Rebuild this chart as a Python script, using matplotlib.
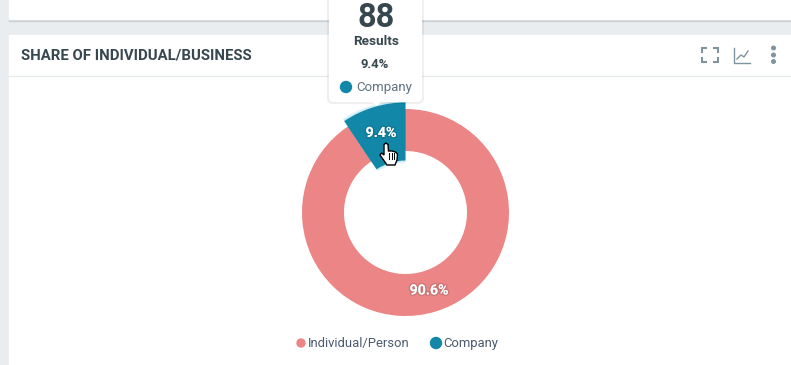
import matplotlib
matplotlib.use("Agg")
import matplotlib.pyplot as plt
import matplotlib.patheffects as pe
from matplotlib.patches import Rectangle, FancyBboxPatch, Polygon, Circle

categories = ["Individual/Person", "Company"]
shares = [90.6, 9.4]
results_company = 88
colors = ["#ec8585", "#1287a8"]
dark = "#37474f"
W, H = 791, 365

def Y(y):
    return H - y

plt.rcParams["font.family"] = ["Roboto", "DejaVu Sans"]
fig = plt.figure(figsize=(W / 100, H / 100), dpi=100, facecolor="#e9edf0")
ax = fig.add_axes([0, 0, 1, 1])

# cards
ax.add_patch(Rectangle((9, Y(20.5)), W, 3, color="#cdd3d7", zorder=1))
ax.add_patch(Rectangle((9, Y(19)), W, 19, color="white", zorder=2))
ax.add_patch(Rectangle((9, 0), W, Y(35), color="white", zorder=2))
ax.plot([9, W], [Y(76), Y(76)], color="#e8ebee", lw=1, zorder=3)
ax.text(21, Y(56), "SHARE OF INDIVIDUAL/BUSINESS", fontsize=10.75, fontweight="bold",
        color=dark, va="center", zorder=4)

# donut
cx, cy = 405.5, Y(212.5)
ax.pie(shares, colors=colors, startangle=90, counterclock=False, center=(cx, cy), radius=103.5,
       wedgeprops=dict(width=42, zorder=5, lw=0), frame=True)

# hovered slice with glow
for grow, alpha in [(6, 0.07), (4, 0.1), (2, 0.14)]:
    ax.pie(shares, colors=["none", "#35b6dc"], startangle=90, counterclock=False, center=(cx, cy),
           radius=110 + grow / 2, wedgeprops=dict(width=58 + grow, alpha=alpha, zorder=6, lw=0), frame=True)
ax.pie(shares, colors=["none", colors[1]], startangle=90, counterclock=False, center=(cx, cy), radius=110,
       wedgeprops=dict(width=58, zorder=7, lw=0), frame=True)

halo = [pe.withStroke(linewidth=2, foreground="#00000022")]
ax.text(381, Y(133), "9.4%", color="white", fontsize=10.2, fontweight="bold", ha="center", va="center",
        path_effects=halo, zorder=8)
ax.text(429, Y(290.5), "90.6%", color="white", fontsize=10.2, fontweight="bold", ha="center", va="center",
        path_effects=halo, zorder=8)

# tooltip
ax.add_patch(FancyBboxPatch((329, Y(102)), 93, 120, boxstyle="round,pad=0,rounding_size=4",
                            fc="#00000010", ec="#00000010", lw=3, zorder=9))
ax.add_patch(FancyBboxPatch((329, Y(102)), 93, 120, boxstyle="round,pad=0,rounding_size=4",
                            fc="white", ec="none", zorder=10))
ax.add_patch(Polygon([(372, Y(102)), (381, Y(102)), (376.5, Y(106))], fc="white", ec="none", zorder=10))
ax.text(376, Y(27), str(results_company), fontsize=23.5, fontweight="bold", color=dark,
        ha="center", va="baseline", zorder=11)
ax.text(376, Y(41.5), "Results", fontsize=9.7, fontweight="bold", color=dark, ha="center", va="center", zorder=11)
ax.text(375, Y(64), "9.4%", fontsize=9.4, fontweight="bold", color=dark, ha="center", va="center", zorder=11)
ax.add_patch(Circle((346, Y(87)), 5.5, color=colors[1], zorder=11))
ax.text(356.5, Y(88), "Company", fontsize=9.5, color="#5f7380", va="center", zorder=11)

# legend
ax.add_patch(Circle((301, Y(343)), 4, color=colors[0], zorder=4))
ax.text(308, Y(343.5), categories[0], fontsize=9.4, color="#4a5a70", va="center", zorder=4)
ax.add_patch(Circle((436, Y(343)), 5.5, color=colors[1], zorder=4))
ax.text(443, Y(343.5), categories[1], fontsize=9.4, color="#4a5a70", va="center", zorder=4)

# header icons
icon = "#7f949f"
for px, py, dx, dy in [(702, 48, 1, 1), (718, 48, -1, 1), (702, 62, 1, -1), (718, 62, -1, -1)]:
    ax.plot([px + 4 * dx, px, px], [Y(py), Y(py), Y(py + 4 * dy)], color=icon, lw=1.5, zorder=4,
            solid_joinstyle="miter")
ax.plot([734, 734, 750], [Y(48), Y(62.5), Y(62.5)], color=icon, lw=1, zorder=4)
ax.plot([737, 741, 744, 748], [Y(59), Y(55), Y(57), Y(51)], color=icon, lw=1, zorder=4)
for py in [48, 55, 61.5]:
    ax.add_patch(Circle((773.5, Y(py)), 1.8, color=icon, zorder=4))

# hand cursor
hand = [(384, 144.5), (386, 143), (388, 144.5), (388.5, 151), (392, 151), (395.5, 152), (397.5, 154),
        (397, 160), (395, 165), (387, 165), (383.5, 160), (380, 155), (381.5, 153), (384, 155)]
ax.add_patch(Polygon([(x, Y(y)) for x, y in hand], fc="white", ec="black", lw=1, zorder=12))
for x0 in [389, 391.5, 394]:
    ax.plot([x0, x0], [Y(152.5), Y(159)], color="black", lw=0.7, zorder=13)

ax.set_xlim(0, W)
ax.set_ylim(0, H)
ax.set_aspect("auto")
ax.axis("off")
fig.savefig("out.png", dpi=100, facecolor=fig.get_facecolor())
